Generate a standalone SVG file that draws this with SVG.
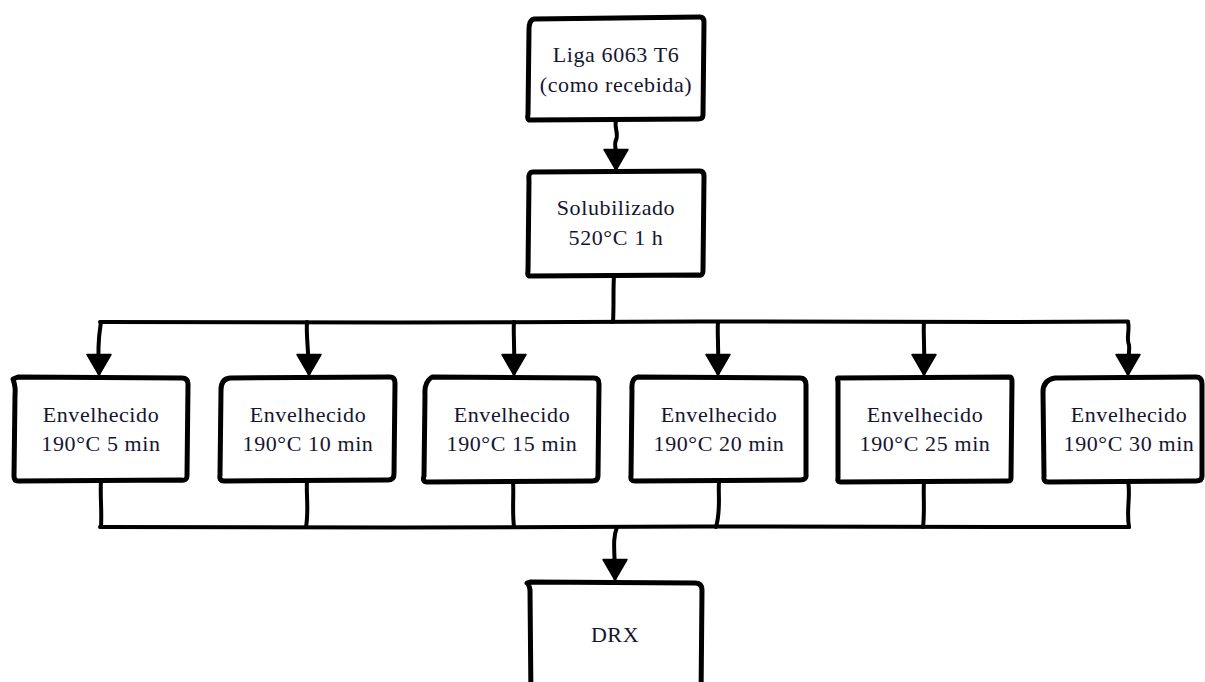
<svg xmlns="http://www.w3.org/2000/svg" width="1205" height="682" viewBox="0 0 1205 682">
<style>
.box{fill:#fff;stroke:#000;stroke-width:5;stroke-linejoin:round;stroke-linecap:round}
.ln{fill:none;stroke:#000;stroke-width:4;stroke-linecap:round;stroke-linejoin:round}
.t{font-family:"Liberation Serif","Times New Roman",serif;font-size:22px;fill:#151530;text-anchor:middle;letter-spacing:0.6px}
</style>
<defs>
<marker id="ah" markerUnits="userSpaceOnUse" markerWidth="26" markerHeight="24" refX="12" refY="18" viewBox="0 0 24 22">
<path d="M1 1 L23 1 L12 20 Z" fill="#000" stroke="#000" stroke-width="1.5" stroke-linejoin="round"/>
</marker>
</defs>
<rect width="1205" height="682" fill="#fff"/>
<g id="connectors">
<path class="ln" d="M616 120 C614 128 619 134 616 140 C613 146 618 150 616 168" marker-end="url(#ah)"/>
<path class="ln" d="M614 276 C613 290 614 305 613 322"/>
<path class="ln" d="M100 322 L400 322.5 L700 321.5 L1000 322 L1128 321.5"/>
<path class="ln" d="M101 322 C100 330 97 340 99 373" marker-end="url(#ah)"/>
<path class="ln" d="M307 322 C306 332 308 345 309 373" marker-end="url(#ah)"/>
<path class="ln" d="M514 322 C513 334 515 345 514 373" marker-end="url(#ah)"/>
<path class="ln" d="M718 322 C717 334 719 345 718 373" marker-end="url(#ah)"/>
<path class="ln" d="M924 322 C923 334 925 345 924 373" marker-end="url(#ah)"/>
<path class="ln" d="M1128 322 C1130 330 1126 338 1129 345 C1130 350 1128 353 1128 373" marker-end="url(#ah)"/>
<path class="ln" d="M101 481 C100 495 102 510 101 527"/>
<path class="ln" d="M307 481 C306 495 309 510 306 527"/>
<path class="ln" d="M513 481 C514 495 512 510 514 527"/>
<path class="ln" d="M719 481 C718 495 721 510 716 527"/>
<path class="ln" d="M924 481 C923 495 925 510 923 527"/>
<path class="ln" d="M1128 481 C1131 495 1126 510 1129 527"/>
<path class="ln" d="M100 527 L400 527.5 L700 526.5 L1000 527 L1129 527"/>
<path class="ln" d="M617 527 C612 540 615 552 615 578" marker-end="url(#ah)"/>
</g>
<g id="n-liga">
<path class="box" d="M534 19 L700 17 Q704 17 704 22 L703 115 Q703 119 698 119 L529 120 Q527 119 528 114 L529 30 Q529 20 534 19 Z"/>
<text class="t" x="616" y="62">Liga 6063 T6</text>
<text class="t" x="616" y="92">(como recebida)</text>
</g>
<g id="n-solub">
<path class="box" d="M533 172 L700 171 Q704 171 704 176 L703 271 Q703 276 698 275 L530 276 Q527 276 528 271 L529 180 Q528 172 533 172 Z"/>
<text class="t" x="616" y="215">Solubilizado</text>
<text class="t" x="616" y="245">520°C 1 h</text>
</g>
<g id="n-e5">
<path class="box" d="M18 377 L182 378 Q188 378 188 384 L187 476 Q187 481 181 480 L18 481 Q14 481 14 476 L15 395 Q16 388 13 379 Z"/>
<text class="t" x="101" y="422">Envelhecido</text>
<text class="t" x="101" y="451">190°C 5 min</text>
</g>
<g id="n-e10">
<path class="box" d="M230 378 L390 377 Q395 377 395 383 L394 474 Q394 480 388 480 L224 481 Q219 481 220 475 L221 390 Q221 379 230 378 Z"/>
<text class="t" x="308" y="422">Envelhecido</text>
<text class="t" x="308" y="451">190°C 10 min</text>
</g>
<g id="n-e15">
<path class="box" d="M432 377 L594 378 Q599 378 599 384 L598 476 Q598 481 592 481 L427 482 Q422 482 424 476 L425 395 Q424 382 432 377 Z"/>
<text class="t" x="512" y="422">Envelhecido</text>
<text class="t" x="512" y="451">190°C 15 min</text>
</g>
<g id="n-e20">
<path class="box" d="M638 377 L800 378 Q806 378 806 385 L806 474 Q807 480 800 480 L635 481 Q630 481 631 476 L632 390 Q631 378 638 377 Z"/>
<text class="t" x="719" y="422">Envelhecido</text>
<text class="t" x="719" y="451">190°C 20 min</text>
</g>
<g id="n-e25">
<path class="box" d="M838 378 L1010 377 Q1012 377 1012 382 L1011 478 Q1011 481 1008 481 L840 482 Q837 482 838 478 L838 382 Q837 378 838 378 Z"/>
<text class="t" x="925" y="422">Envelhecido</text>
<text class="t" x="925" y="451">190°C 25 min</text>
</g>
<g id="n-e30">
<path class="box" d="M1055 378 L1196 377 Q1202 377 1202 384 L1202 476 Q1202 481 1196 481 L1048 482 Q1043 482 1044 476 L1043 392 Q1043 380 1055 378 Z"/>
<text class="t" x="1129" y="422">Envelhecido</text>
<text class="t" x="1129" y="451">190°C 30 min</text>
</g>
<g id="n-drx">
<path class="box" d="M530 582 L695 583 Q702 583 702 590 L701 700 L531 700 L530 590 Q529 584 527 583 Z"/>
<text class="t" x="615" y="642">DRX</text>
</g>
</svg>
